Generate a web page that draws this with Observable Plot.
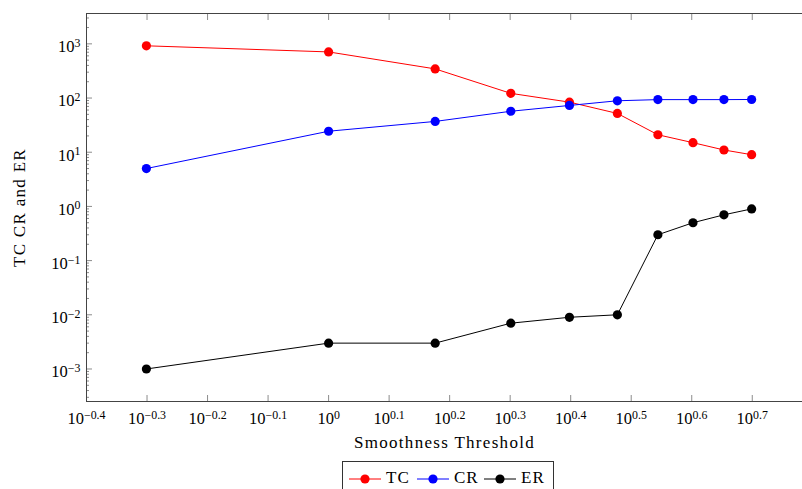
<!DOCTYPE html>
<html>
<head>
<meta charset="utf-8">
<script src="https://cdn.jsdelivr.net/npm/d3@7"></script>
<script src="https://cdn.jsdelivr.net/npm/@observablehq/plot@0.6"></script>
<style>
  html, body { margin: 0; padding: 0; background: #fff; overflow: hidden; }
  #chart svg { display: block; }
  .legend { position: absolute; left: 342px; top: 461px; width: 212px; height: 40px;
    border: 1px solid #333; box-sizing: border-box; font-family: "Liberation Serif", serif;
    font-size: 17px; }
  .legend .item { position: absolute; top: 4px; display: flex; align-items: center; }
</style>
</head>
<body>
<div id="chart"></div>
<div class="legend" id="legend"></div>
<script>
const thresholds = [0.5, 1, 1.5, 2, 2.5, 3, 3.5, 4, 4.5, 5];
const tcValues = [920, 710, 345, 122, 84, 52, 21, 15, 11, 9];
const crValues = [5, 24.4, 37, 57, 73, 89, 93.5, 93.5, 93.5, 94];
const erValues = [0.001, 0.003, 0.003, 0.007, 0.009, 0.01, 0.3, 0.5, 0.7, 0.9];
const seriesNames = ["TC", "CR", "ER"];
const seriesColors = ["#ff0000", "#0000ff", "#000000"];
const xTickExponents = [-0.4, -0.3, -0.2, -0.1, 0, 0.1, 0.2, 0.3, 0.4, 0.5, 0.6, 0.7];
const yTickExponents = [-3, -2, -1, 0, 1, 2, 3];

const seriesValues = [tcValues, crValues, erValues];
const rows = [];
seriesNames.forEach((name, i) => {
  thresholds.forEach((t, j) => rows.push({series: name, x: t, y: seriesValues[i][j]}));
});

const xTicks = xTickExponents.map(e => Math.pow(10, e));
const yTicks = yTickExponents.map(e => Math.pow(10, e));
const yMinor = [];
for (let k = -4; k <= 3; k++) for (let m = 2; m <= 9; m++) {
  const v = m * Math.pow(10, k);
  if (v > Math.pow(10, -3.6) && v < Math.pow(10, 3.56)) yMinor.push(v);
}
const fmt = d => {
  const e = Math.round(Math.log10(d) * 10) / 10;
  return "10^" + String(e).replace("-", "\u2212");
};
const colorOf = Object.fromEntries(seriesNames.map((n, i) => [n, seriesColors[i]]));

const tickStroke = "#8c8c8c";
const chart = Plot.plot({
  width: 802, height: 457,
  marginLeft: 86, marginRight: 0, marginTop: 13, marginBottom: 56,
  style: {fontFamily: "'Liberation Serif', serif", fontSize: "16.5px", color: "#000", background: "#fff"},
  x: {type: "log", domain: [Math.pow(10, -0.4), Math.pow(10, 0.783)]},
  y: {type: "log", domain: [Math.pow(10, -3.6), Math.pow(10, 3.56)]},
  color: {domain: seriesNames, range: seriesColors},
  marks: [
    Plot.axisX(xTicks, {anchor: "bottom", tickSize: 6, dy: -6, fill: "none", stroke: tickStroke, label: null}),
    Plot.axisX(xTicks, {anchor: "top", tickSize: 6, dy: 6, fill: "none", stroke: tickStroke, label: null}),
    Plot.axisX(xTicks, {anchor: "bottom", tickSize: 0, tickPadding: 11, ticks: Infinity, tickFormat: fmt,
      label: "Smoothness Threshold", labelArrow: "none", labelAnchor: "center", labelOffset: 46}),
    Plot.axisY(yTicks, {anchor: "left", tickSize: 6, dx: 6, fill: "none", stroke: tickStroke, label: null}),
    Plot.axisY(yMinor, {anchor: "left", tickSize: 3, dx: 3, fill: "none", stroke: tickStroke, label: null}),
    Plot.axisY(yTicks, {anchor: "left", tickSize: 0, tickPadding: 6, dy: 3, ticks: Infinity, tickFormat: fmt,
      label: "TC CR and ER", labelArrow: "none", labelAnchor: "center", labelOffset: 74}),
    Plot.frame({stroke: "#444"}),
    Plot.line(rows, {x: "x", y: "y", z: "series", stroke: d => colorOf[d.series], strokeWidth: 1}),
    Plot.dot(rows, {x: "x", y: "y", fill: d => colorOf[d.series], r: 4.6, stroke: "none"})
  ]
});
document.getElementById("chart").appendChild(chart);

// superscript tick labels
d3.select(chart).selectAll("text").each(function () {
  const t = this.textContent;
  const m = t.match(/^10\^(.+)$/);
  if (m) {
    const sel = d3.select(this);
    sel.selectAll("*").remove();
    sel.text(null);
    sel.append("tspan").text("10");
    sel.append("tspan").attr("dy", "-0.45em").attr("font-size", "0.72em").text(m[1]);
  } else if (/^(Smoothness Threshold|TC CR and ER)/.test(t)) {
    d3.select(this).attr("font-size", "17px").attr("letter-spacing", "1.3px");
  }
});

// legend
const legend = d3.select("#legend");
const lefts = [5, 73, 140];
seriesNames.forEach((name, i) => {
  const item = legend.append("div").attr("class", "item").style("left", lefts[i] + "px");
  const svg = item.append("svg").attr("width", 34).attr("height", 24);
  svg.append("line").attr("x1", 1).attr("x2", 33).attr("y1", 13).attr("y2", 13)
    .attr("stroke", seriesColors[i]).attr("stroke-width", 1);
  svg.append("circle").attr("cx", 17).attr("cy", 13).attr("r", 4.6).attr("fill", seriesColors[i]);
  item.append("span").style("margin-left", "4px").style("letter-spacing", "1px").text(name);
});
</script>
</body>
</html>
